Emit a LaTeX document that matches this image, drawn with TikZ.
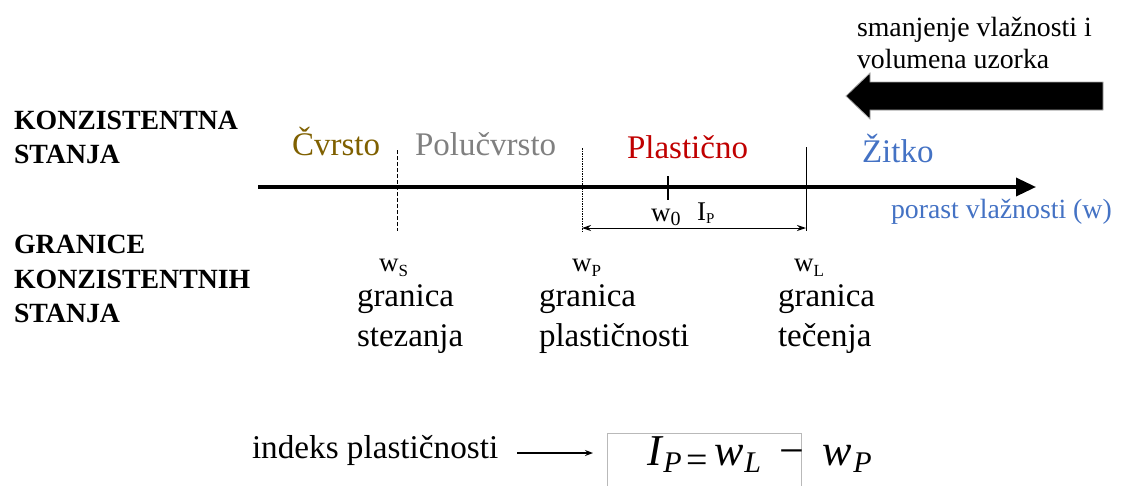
\documentclass[tikz,border=0pt]{standalone}
\usepackage{fontspec}
\setmainfont{Liberation Serif}
\usetikzlibrary{arrows.meta}
\definecolor{cvrsto}{HTML}{7F6000}
\definecolor{polu}{HTML}{808080}
\definecolor{plast}{HTML}{C00000}
\definecolor{zitko}{HTML}{4472C4}
\newcommand{\fsub}[1]{\raisebox{-7pt}{\fontsize{30}{32}\selectfont #1}}
\begin{document}
\begin{tikzpicture}[x=1pt,y=-1pt,
  lbl/.style={anchor=base west,inner sep=0pt,outer sep=0pt},
  state/.style={lbl,font=\fontsize{33}{38}\selectfont},
  bold/.style={lbl,font=\fontsize{27.8}{34}\selectfont\bfseries},
  lower/.style={lbl,font=\fontsize{33}{40}\selectfont},
  wlab/.style={lbl,font=\fontsize{27}{30}\selectfont},
  vline/.style={line width=1pt},
]
\useasboundingbox (0,0) rectangle (1121,485);
% left headings
\node[bold] (k1) at (14,129) {KONZISTENTNA};
\node[bold] (k2) at (14,163) {STANJA};
\node[bold] (g1) at (14,253) {GRANICE};
\node[bold] (g2) at (14,288) {KONZISTENTNIH};
\node[bold] (g3) at (14,322) {STANJA};
% states
\node[state,text=cvrsto] (s1) at (292,155) {Čvrsto};
\node[state,text=polu] (s2) at (415,155) {Polučvrsto};
\node[state,text=plast] (s3) at (627,158) {Plastično};
\node[state,text=zitko] (s4) at (862,162) {Žitko};
% axis
\coordinate (a0) at (258,187);
\coordinate (a1) at (1036,187);
\draw[line width=3.5pt,-{Triangle[length=20pt,width=18pt]}] (a0) -- (a1);
\node[lbl,font=\fontsize{27.8}{32}\selectfont,text=zitko] (por) at (891,218) {porast vlažnosti (w)};
% boundaries
\coordinate (vsT) at (397,150); \coordinate (vsB) at (397,231);
\coordinate (vpT) at (582,148); \coordinate (vpB) at (582,232);
\coordinate (vlT) at (806,147); \coordinate (vlB) at (806,231);
\draw[vline,dash pattern=on 4pt off 2pt] (vsT) -- (vsB);
\draw[vline,dash pattern=on 1.5pt off 1pt] (vpT) -- (vpB);
\draw[vline] (vlT) -- (vlB);
% w0 tick
\coordinate (t0) at (668,176); \coordinate (t1) at (668,200);
\draw[line width=2pt] (t0) -- (t1);
\node[wlab] (w0) at (651,221) {w\raisebox{-0.35ex}{\fontsize{20}{20}\selectfont 0}};
\node[wlab] (ip) at (697,220) {I\raisebox{-0.3ex}{\fontsize{15}{16}\selectfont P}};
% IP range arrow
\coordinate (r0) at (582,228); \coordinate (r1) at (806,228);
\draw[line width=1pt,{Stealth[length=9pt,width=6pt]}-{Stealth[length=9pt,width=6pt]}] (r0) -- (r1);
% lower labels
\node[wlab] (ws) at (379,271) {w\raisebox{-0.45ex}{\fontsize{17}{18}\selectfont S}};
\node[lower] (gs1) at (357,306) {granica};
\node[lower] (gs2) at (357,346) {stezanja};
\node[wlab] (wp) at (572,271) {w\raisebox{-0.45ex}{\fontsize{17}{18}\selectfont P}};
\node[lower] (gp1) at (539,306) {granica};
\node[lower] (gp2) at (539,346) {plastičnosti};
\node[wlab] (wl) at (794,271) {w\raisebox{-0.45ex}{\fontsize{17}{18}\selectfont L}};
\node[lower] (gl1) at (778,306) {granica};
\node[lower] (gl2) at (778,346) {tečenja};
% top right
\node[lbl,font=\fontsize{27.8}{32}\selectfont] (sm1) at (857,36) {smanjenje vlažnosti i};
\node[lbl,font=\fontsize{27.8}{32}\selectfont] (sm2) at (857,68) {volumena uzorka};
\fill[black,draw=gray!70,line width=0.8pt] (1103,82) -- (870,82) -- (870,73) -- (846,96) -- (870,119) -- (870,110) -- (1103,110) -- cycle;
% bottom formula
\node[lbl,font=\fontsize{33.2}{38}\selectfont] (ind) at (252,458) {indeks plastičnosti};
\draw[gray!55,line width=0.8pt] (801,486) -- (801,433) -- (607,433) -- (607,486);
\node[lbl,font=\fontsize{44}{48}\selectfont] (f) at (647,465)
  {\textit{I}\fsub{\textit{P}\kern5pt{\fontsize{38}{40}\selectfont=}}\kern6pt\textit{w}\kern1pt\fsub{\textit{L}}\kern18pt−\kern19pt\textit{w}\kern1pt\fsub{\textit{P}}};
\coordinate (ia) at (517,453); \coordinate (ib) at (593,453);
\draw[line width=1.3pt,-{Stealth[length=8pt,width=6pt]}] (ia) -- (ib);
\end{tikzpicture}
\end{document}
